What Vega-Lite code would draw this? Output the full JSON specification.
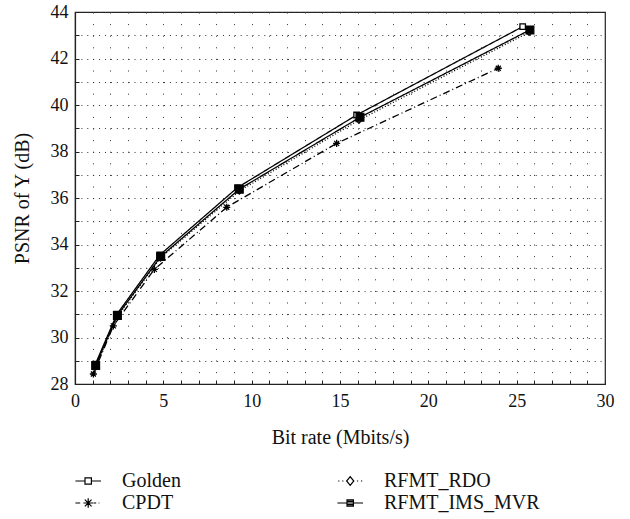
{
  "$schema": "https://vega.github.io/schema/vega-lite/v6.json",
  "width": 530,
  "height": 372,
  "autosize": {"type": "none"},
  "padding": {"left": 75, "top": 12, "right": 25, "bottom": 135},
  "background": "white",
  "config": {
    "view": {"stroke": "#222", "strokeWidth": 1.2},
    "font": "Liberation Serif",
    "axis": {
      "labelFont": "Liberation Serif",
      "titleFont": "Liberation Serif",
      "labelFontSize": 18,
      "titleFontSize": 20,
      "titleFontWeight": "normal",
      "labelColor": "#111",
      "titleColor": "#111",
      "domainColor": "#222",
      "domainWidth": 1.2,
      "tickColor": "#222",
      "gridColor": "#333",
      "gridOpacity": 1,
      "gridWidth": 1
    }
  },
  "data": {
    "values": [
      {"series": "Golden", "x": 1.15, "y": 28.85},
      {"series": "Golden", "x": 2.37, "y": 31.0},
      {"series": "Golden", "x": 4.8, "y": 33.55},
      {"series": "Golden", "x": 9.2, "y": 36.45},
      {"series": "Golden", "x": 15.94, "y": 39.57},
      {"series": "Golden", "x": 25.34, "y": 43.37},
      {"series": "CPDT", "x": 1.04, "y": 28.43},
      {"series": "CPDT", "x": 2.17, "y": 30.5},
      {"series": "CPDT", "x": 4.49, "y": 32.93},
      {"series": "CPDT", "x": 8.59, "y": 35.6},
      {"series": "CPDT", "x": 14.81, "y": 38.35},
      {"series": "CPDT", "x": 23.96, "y": 41.58},
      {"series": "RFMT_RDO", "x": 1.17, "y": 28.75},
      {"series": "RFMT_RDO", "x": 2.4, "y": 30.9},
      {"series": "RFMT_RDO", "x": 4.83, "y": 33.42},
      {"series": "RFMT_RDO", "x": 9.3, "y": 36.3},
      {"series": "RFMT_RDO", "x": 16.07, "y": 39.35},
      {"series": "RFMT_RDO", "x": 25.7, "y": 43.13},
      {"series": "RFMT_IMS_MVR", "x": 1.17, "y": 28.8},
      {"series": "RFMT_IMS_MVR", "x": 2.4, "y": 30.95},
      {"series": "RFMT_IMS_MVR", "x": 4.85, "y": 33.48},
      {"series": "RFMT_IMS_MVR", "x": 9.3, "y": 36.38},
      {"series": "RFMT_IMS_MVR", "x": 16.13, "y": 39.47},
      {"series": "RFMT_IMS_MVR", "x": 25.75, "y": 43.23}
    ]
  },
  "encoding": {
    "x": {
      "field": "x",
      "type": "quantitative",
      "scale": {"domain": [0, 30], "nice": false},
      "axis": {
        "title": "Bit rate (Mbits/s)",
        "values": [0,1,2,3,4,5,6,7,8,9,10,11,12,13,14,15,16,17,18,19,20,21,22,23,24,25,26,27,28,29,30],
        "labelExpr": "datum.value % 5 === 0 ? datum.label : ''",
        "grid": true,
        "gridDash": [1, 10.6],
        "tickSize": -4,
        "labelPadding": 12,
        "titlePadding": 17,
        "labelFlush": false
      }
    },
    "y": {
      "field": "y",
      "type": "quantitative",
      "scale": {"domain": [28, 44], "nice": false, "zero": false},
      "axis": {
        "title": "PSNR of Y (dB)",
        "values": [28,29,30,31,32,33,34,35,36,37,38,39,40,41,42,43,44],
        "labelExpr": "datum.value % 2 === 0 ? datum.label : ''",
        "grid": true,
        "gridDash": [1, 4.9],
        "tickSize": -4,
        "labelPadding": 11,
        "titlePadding": 18,
        "labelFlush": false
      }
    }
  },
  "layer": [
    {
      "mark": {"type": "line", "color": "black", "strokeWidth": 1.3},
      "encoding": {
        "detail": {"field": "series"},
        "strokeDash": {
          "field": "series",
          "scale": {
            "domain": ["Golden", "RFMT_RDO", "CPDT", "RFMT_IMS_MVR"],
            "range": [[1, 0], [1, 2], [7, 3, 1, 3], [1, 0]]
          },
          "legend": null
        }
      }
    },
    {
      "mark": {"type": "point", "stroke": "black", "strokeWidth": 1.3, "opacity": 1},
      "encoding": {
        "shape": {
          "field": "series",
          "scale": {
            "domain": ["Golden", "RFMT_RDO", "CPDT", "RFMT_IMS_MVR"],
            "range": ["square", "diamond", "M0,-1V1M-1,0H1M-0.7,-0.7L0.7,0.7M-0.7,0.7L0.7,-0.7", "square"]
          },
          "legend": null
        },
        "fill": {
          "field": "series",
          "scale": {
            "domain": ["Golden", "RFMT_RDO", "CPDT", "RFMT_IMS_MVR"],
            "range": ["white", "white", "black", "black"]
          },
          "legend": null
        },
        "size": {
          "field": "series",
          "scale": {
            "domain": ["Golden", "RFMT_RDO", "CPDT", "RFMT_IMS_MVR"],
            "range": [30, 60, 130, 55]
          },
          "legend": null
        }
      }
    },
    {
      "transform": [{"filter": "false"}],
      "mark": {"type": "point", "color": "black", "filled": false, "strokeWidth": 1.2, "opacity": 1},
      "encoding": {
        "shape": {
          "field": "series",
          "scale": {
            "domain": ["Golden", "RFMT_RDO", "CPDT", "RFMT_IMS_MVR"],
            "range": [
              "M-1.2,0H0M0.8,0H2.0M0,-0.4H0.8V0.4H0Z",
              "M-1.1,0H-0.95M-0.6,0H-0.45M1.25,0H1.4M1.75,0H1.9M0.4,-0.55L0.85,0L0.4,0.55L-0.05,0Z",
              "M-1.2,0H-0.6M1.05,0H1.4M1.7,0H1.8M0.4,-0.6V0.6M-0.2,0H1.0M-0.02,-0.42L0.82,0.42M-0.02,0.42L0.82,-0.42",
              "M-1.2,0H2.0M0,-0.4H0.8V0.4H0ZM0,-0.2H0.8M0,0.2H0.8"
            ]
          },
          "legend": {
            "title": null,
            "orient": "bottom",
            "direction": "horizontal",
            "columns": 2,
            "columnPadding": 154,
            "rowPadding": 2,
            "symbolSize": 256,
            "symbolStrokeWidth": 1.2,
            "symbolStrokeColor": "black",
            "labelFont": "Liberation Serif",
            "labelFontSize": 20,
            "labelColor": "#111",
            "labelOffset": 27,
            "offset": 24
          }
        }
      }
    }
  ],
  "resolve": {"scale": {"shape": "independent"}}
}
